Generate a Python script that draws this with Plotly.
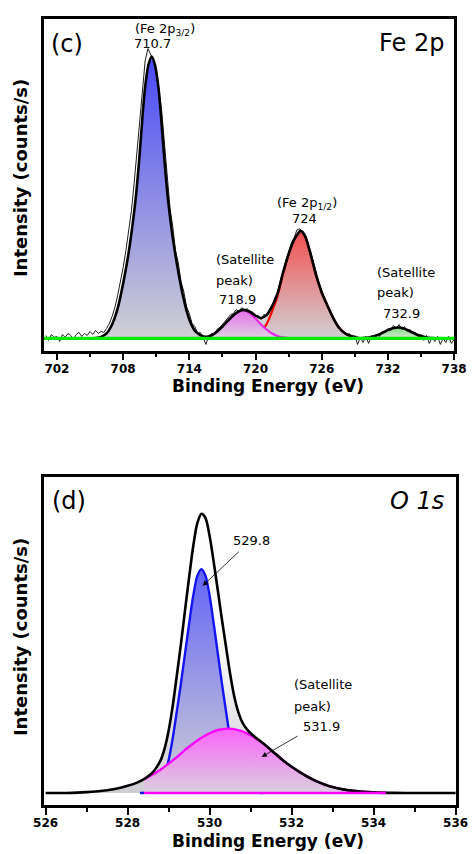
import numpy as np
import plotly.graph_objects as go

# ================= Panel (c): Fe 2p =================
# raw spectrum, sampled every 0.25 eV starting at 701.0 eV (one row = 1 eV)
fe_raw_start = 701.0
fe_raw_step = 0.25
fe_raw = [
    3, -2, 4, 1,          # 701
    2, -3, 4, 1,          # 702
    5, 3, -1, 4,          # 703
    6, 2, 5, 3,           # 704
    7, 4, 8, 5,           # 705
    7, 6, 10, 15,         # 706
    22, 31, 43, 56,       # 707
    71, 88, 106, 128,     # 708
    156, 186, 218, 254,   # 709
    279, 291, 285, 279,   # 710
    264, 250, 228, 193,   # 711
    162, 131, 112, 88,    # 712
    76, 57, 47, 32,       # 713
    25, 15, 12, 5,        # 714
    6, 1, -6, 2,          # 715
    5, 4, 9, 11,          # 716
    14, 17, 20, 24,       # 717
    25, 29, 27, 31,       # 718
    28, 30, 26, 25,       # 719
    22, 23, 19, 24,       # 720
    23, 29, 33, 41,       # 721
    46, 58, 66, 78,       # 722
    86, 96, 101, 109,     # 723
    110, 106, 104, 94,    # 724
    87, 75, 66, 55,       # 725
    48, 40, 35, 26,       # 726
    23, 15, 13, 8,        # 727
    7, 3, 5, 0,           # 728
    3, -6, 1, -4,         # 729
    2, -5, 3, -1,         # 730
    4, 2, 7, 6,           # 731
    10, 8, 13, 10,        # 732
    14, 9, 12, 7,         # 733
    9, 5, 6, 2,           # 734
    4, -2, 3, -5,         # 735
    1, -3, 2, -6,         # 736
    0, -4, 2, -5,         # 737
    -1,                   # 738
]
fe_raw_energy = (fe_raw_start + fe_raw_step * np.arange(len(fe_raw))).tolist()

# fitted components
fe_p32_x = [705.0, 705.5, 706.0, 706.5, 707.0, 707.5, 708.0, 708.5, 709.0, 709.25, 709.5, 709.75,
            710.0, 710.3, 710.6, 710.9, 711.2, 711.5, 711.75, 712.0, 712.25, 712.5, 713.0, 713.5,
            714.0, 714.5, 715.0, 715.5, 716.0]
fe_p32_y = [0, 0.4, 1.5, 5, 14, 30, 55, 86, 127, 153, 185, 222,
            253, 275, 283, 274, 252, 214, 178, 147, 122, 101, 67, 39,
            19, 7.5, 2.8, 0.5, 0]

fe_sat1_x = [714.0, 714.5, 715.0, 715.5, 716.0, 716.5, 717.0, 717.5, 718.0, 718.5, 718.9,
             719.5, 720.0, 720.5, 721.0, 721.5, 722.0, 722.5, 723.0, 723.5]
fe_sat1_y = [0, 0.3, 0.6, 1.2, 3, 6.8, 12, 17.8, 23.3, 27.2, 28.4,
             25.5, 20, 14, 9, 5, 2.5, 1.1, 0.4, 0]

fe_p12_x = [718.5, 719.0, 719.5, 720.0, 720.5, 721.0, 721.5, 722.0, 722.5, 723.0, 723.5, 723.8,
            724.1, 724.5, 725.0, 725.5, 726.0, 726.5, 727.0, 727.5, 728.0, 728.5, 729.0, 729.5, 730.0]
fe_p12_y = [0, 0.4, 1.3, 3, 6.5, 14.4, 27.2, 42.8, 65.2, 84.4, 99.2, 104.4,
            108, 102.4, 84.2, 63.2, 46.2, 33.4, 21.4, 11.8, 6, 3, 1.3, 0.2, 0]

fe_sat2_x = [729.5, 730.0, 730.5, 731.0, 731.5, 732.0, 732.5, 732.9, 733.5, 734.0, 734.5,
             735.0, 735.5, 736.0, 736.5]
fe_sat2_y = [0, 0.6, 1.5, 3.2, 5.6, 8.3, 10.4, 11, 9.8, 7.2, 4.5, 2.4, 1, 0.4, 0]

fe_env_x = [701.0, 705.0, 705.5, 706.0, 706.5, 707.0, 707.5, 708.0, 708.5, 709.0, 709.25, 709.5,
            709.75, 710.0, 710.3, 710.6, 710.9, 711.2, 711.5, 711.75, 712.0, 712.25, 712.5, 713.0,
            713.5, 714.0, 714.5, 715.0, 715.5, 716.0, 716.5, 717.0, 717.5, 718.0, 718.5, 718.9,
            719.5, 720.0, 720.5, 721.0, 721.5, 722.0, 722.5, 723.0, 723.5, 723.8, 724.1, 724.5,
            725.0, 725.5, 726.0, 726.5, 727.0, 727.5, 728.0, 728.5, 729.0, 729.5, 730.0, 730.5,
            731.0, 731.5, 732.0, 732.5, 732.9, 733.5, 734.0, 734.5, 735.0, 735.5, 736.0, 736.5,
            738.0]
fe_env_y = [0, 0, 0.4, 1.5, 5, 14, 30, 55, 86, 127, 153, 185,
            222, 253, 275, 283, 274, 252, 214, 178, 147, 122, 101, 67,
            39, 19, 7.8, 3.4, 1.7, 3, 6.8, 12, 17.8, 23.3, 27.2, 28.7,
            26.8, 23, 20.5, 23.4, 32.2, 45.3, 66.3, 84.8, 99.2, 104.4, 108, 102.4,
            84.2, 63.2, 46.2, 33.4, 21.4, 11.8, 6, 3, 1.3, 0.2, 0.6, 1.5,
            3.2, 5.6, 8.3, 10.4, 11, 9.8, 7.2, 4.5, 2.4, 1, 0.4, 0,
            0]

fe_ticks = [702, 708, 714, 720, 726, 732, 738]
fe_minor = [705, 711, 717, 723, 729, 735]

# ================= Panel (d): O 1s =================
o_main_x = [528.3, 528.4, 528.5, 528.6, 528.7, 528.8, 528.9, 529.0, 529.1, 529.2, 529.3, 529.4,
            529.5, 529.6, 529.7, 529.8, 529.9, 530.0, 530.1, 530.2, 530.3, 530.4, 530.5, 530.6,
            530.7, 530.8, 530.9, 531.0, 531.1, 531.2, 531.3]
o_main_y = [0, 0.3, 0.8, 2, 4.5, 9, 18, 33, 55, 82, 110, 140,
            170, 198, 218, 224.7, 218, 198, 170, 140, 110, 82, 55, 33,
            18, 9, 4.5, 2, 0.8, 0.3, 0]

o_sat_x = [528.4, 528.6, 528.8, 529.0, 529.2, 529.4, 529.6, 529.8, 530.0, 530.2, 530.45, 530.6,
           530.8, 531.0, 531.2, 531.4, 531.6, 531.8, 532.0, 532.2, 532.4, 532.6, 532.8, 533.0,
           533.25, 533.5, 533.75, 534.0, 534.3]
o_sat_y = [14, 18.3, 23.5, 29.5, 36, 43.3, 49.8, 55.6, 60, 63.3, 64.7, 64.2,
           61.8, 58, 52.9, 46.6, 39.5, 32.5, 26.4, 21, 16.1, 12, 8.6, 6,
           3.7, 2.3, 1.3, 0.7, 0.3]

o_env_x = [526.0, 526.5, 527.0, 527.5, 527.8, 528.0, 528.2, 528.4, 528.5, 528.6, 528.7, 528.8,
           528.9, 529.0, 529.1, 529.2, 529.3, 529.4, 529.5, 529.6, 529.7, 529.8, 529.9, 530.0,
           530.1, 530.2, 530.3, 530.4, 530.5, 530.6, 530.7, 530.8, 530.9, 531.0, 531.1, 531.2,
           531.4, 531.6, 531.8, 532.0, 532.2, 532.4, 532.6, 532.8, 533.0, 533.25, 533.5, 533.75,
           534.0, 534.5, 535.0, 536.0]
o_env_y = [0, 0.1, 0.9, 2.8, 5, 7.2, 10, 14, 16.9, 20.3, 25.5, 32.5,
           44.4, 62.5, 87.5, 118, 149.5, 183.3, 216.6, 247.8, 270.9, 280.3, 276, 258,
           231.8, 203.3, 174.2, 146.7, 119.7, 97.2, 81.3, 70.8, 64.5, 60, 56.4, 53.2,
           46.6, 39.5, 32.5, 26.4, 21, 16.1, 12, 8.6, 6, 3.7, 2.3, 1.3,
           0.7, 0.2, 0, 0]

o_ticks = [526, 528, 530, 532, 534, 536]
o_minor = [527, 529, 531, 533, 535]

FONT = "DejaVu Sans"
GRAY = "rgb(208,208,212)"
ENV_SCALE = [[0, "rgb(205,205,210)"], [0.25, "rgb(228,228,232)"],
             [0.55, "rgb(252,252,253)"], [1, "rgb(255,255,255)"]]


def component(x, y, top, bottom, xa, ya, line_color=None, width=0, scale=None):
    return go.Scatter(
        x=x, y=y, xaxis=xa, yaxis=ya, mode="lines",
        line=dict(color=line_color or top, width=width, shape="spline", smoothing=0.8),
        fill="tozeroy",
        fillgradient=dict(type="vertical", colorscale=scale or [[0, bottom], [1, top]]),
        hoverinfo="skip", showlegend=False,
    )


traces = []
# ---- top panel ----
traces.append(component(fe_env_x, fe_env_y, None, None, "x", "y", line_color="white",
                        scale=ENV_SCALE))
traces.append(component(fe_p32_x, fe_p32_y, "rgb(72,72,248)", GRAY, "x", "y"))
traces.append(component(fe_p12_x, fe_p12_y, "rgb(244,80,80)", GRAY, "x", "y",
                        line_color="rgb(255,0,0)", width=2.2))
traces.append(component(fe_sat1_x, fe_sat1_y, "rgb(228,110,232)", "rgb(222,212,226)", "x", "y",
                        line_color="rgb(230,40,230)", width=2.2))
traces.append(component(fe_sat2_x, fe_sat2_y, "rgb(130,220,130)", "rgb(215,228,215)", "x", "y"))
traces.append(go.Scatter(x=fe_raw_energy, y=fe_raw, xaxis="x", yaxis="y", mode="lines",
                         line=dict(color="rgb(30,30,30)", width=1.0),
                         hoverinfo="skip", showlegend=False))
traces.append(go.Scatter(x=fe_env_x, y=fe_env_y, xaxis="x", yaxis="y", mode="lines",
                         line=dict(color="black", width=2.6, shape="spline", smoothing=0.8),
                         hoverinfo="skip", showlegend=False))

# ---- bottom panel ----
traces.append(component(o_env_x, o_env_y, None, None, "x2", "y2", line_color="white",
                        scale=ENV_SCALE))
traces.append(component(o_main_x, o_main_y, "rgb(100,100,248)", GRAY, "x2", "y2",
                        line_color="rgb(20,20,240)", width=2.4))
traces.append(component(o_sat_x, o_sat_y, "rgb(250,100,250)", "rgb(218,208,222)", "x2", "y2",
                        line_color="rgb(255,0,255)", width=2.4))
traces.append(go.Scatter(x=o_env_x, y=o_env_y, xaxis="x2", yaxis="y2", mode="lines",
                         line=dict(color="black", width=2.6, shape="spline", smoothing=0.8),
                         hoverinfo="skip", showlegend=False))
traces.append(go.Scatter(x=[o_sat_x[0], o_sat_x[-1]], y=[0, 0], xaxis="x2", yaxis="y2",
                         mode="lines", line=dict(color="rgb(255,0,255)", width=2.6),
                         hoverinfo="skip", showlegend=False))

fig = go.Figure(traces)

tickfont = dict(family=FONT, size=12, color="black", weight="bold")
axis_common = dict(showline=True, linecolor="black", linewidth=2.6, mirror=True,
                   showgrid=False, zeroline=False, ticks="outside", tickcolor="black",
                   ticklen=7, tickwidth=2.4, tickfont=tickfont, ticklabelstandoff=-2)
yaxis_common = dict(showline=True, linecolor="black", linewidth=2.6, mirror=True,
                    showgrid=False, zeroline=False, ticks="", showticklabels=False)

# the page body adds an 8 px offset, so the figure is 8 px smaller on each side
fig.update_layout(
    width=468, height=846,
    margin=dict(l=36, r=11, t=8, b=49),
    paper_bgcolor="white", plot_bgcolor="white",
    showlegend=False,
    xaxis=dict(domain=[0, 0.996], anchor="y", range=[700.83, 738.02],
               tickvals=fe_ticks,
               minor=dict(tickvals=fe_minor, ticks="outside",
                          ticklen=4, tickwidth=2.2, tickcolor="black"),
               **axis_common),
    yaxis=dict(domain=[0.578, 1], anchor="x", range=[-12.3, 320.7], **yaxis_common),
    xaxis2=dict(domain=[0, 1], anchor="y2", range=[525.96, 536.01],
                tickvals=o_ticks,
                minor=dict(tickvals=o_minor, ticks="outside",
                           ticklen=4, tickwidth=2.2, tickcolor="black"),
                **axis_common),
    yaxis2=dict(domain=[0, 0.417], anchor="x2", range=[-12, 317], **yaxis_common),
    shapes=[dict(type="line", xref="x domain", yref="y", x0=0, x1=1, y0=0, y1=0,
                 line=dict(color="rgb(0,235,0)", width=3.2), layer="above")],
)

ann = []
lab = dict(family=FONT, size=13, color="black")
# titles
for yv in (0.5336, -0.0456):
    ann.append(dict(text="Binding Energy (eV)", xref="paper", yref="paper", x=0.544, y=yv,
                    showarrow=False, xanchor="center", yanchor="middle",
                    font=dict(family=FONT, size=17, color="black", weight="bold")))
for yv in (0.797, 0.213):
    ann.append(dict(text="Intensity (counts/s)", xref="paper", yref="paper", x=-0.057, y=yv,
                    showarrow=False, xanchor="center", yanchor="middle", textangle=-90,
                    font=dict(family=FONT, size=18, color="black", weight="bold")))
# panel labels
big = dict(family=FONT, size=24, color="black")
ann.append(dict(text="(c)", xref="paper", yref="paper", x=0.012, y=0.968, showarrow=False,
                xanchor="left", yanchor="middle", font=big))
ann.append(dict(text="Fe 2p", xref="paper", yref="paper", x=0.976, y=0.969, showarrow=False,
                xanchor="right", yanchor="middle", font=big))
ann.append(dict(text="(d)", xref="paper", yref="paper", x=0.014, y=0.387, showarrow=False,
                xanchor="left", yanchor="middle", font=big))
ann.append(dict(text="<i>O 1s</i>", xref="paper", yref="paper", x=0.976, y=0.387,
                showarrow=False, xanchor="right", yanchor="middle", font=big))


def t(text, x, y, xa, ya, anchor="center"):
    return dict(text=text, x=x, y=y, xref=xa, yref=ya, showarrow=False,
                xanchor=anchor, yanchor="middle", font=lab)


ann += [
    t("(Fe 2p<sub>3/2</sub>)", 711.8, 309.7, "x", "y"),
    t("710.7", 710.62, 296.2, "x", "y"),
    t("(Fe 2p<sub>1/2</sub>)", 724.7, 135.7, "x", "y"),
    t("724", 724.45, 120.7, "x", "y"),
    t("(Satellite", 716.24, 79.2, "x", "y", "left"),
    t("peak)", 716.24, 57.7, "x", "y", "left"),
    t("718.9", 716.51, 39.2, "x", "y", "left"),
    t("(Satellite", 730.87, 66.7, "x", "y", "left"),
    t("peak)", 730.87, 45.7, "x", "y", "left"),
    t("732.9", 731.4, 24.7, "x", "y", "left"),
    # bottom panel
    t("529.8", 531.03, 253.7, "x2", "y2"),
    t("(Satellite", 532.02, 109.0, "x2", "y2", "left"),
    t("peak)", 532.02, 87.0, "x2", "y2", "left"),
    t("531.9", 532.24, 67.0, "x2", "y2", "left"),
]
# arrows, bottom panel
for (xt, yt, xs, ys) in [(529.83, 208.0, 530.75, 243.7), (531.27, 36.3, 532.18, 58.0)]:
    ann.append(dict(text="", x=xt, y=yt, ax=xs, ay=ys, xref="x2", yref="y2",
                    axref="x2", ayref="y2", showarrow=True, arrowhead=2, arrowsize=1.3,
                    arrowwidth=0.8, arrowcolor="black"))

fig.update_layout(annotations=ann)
fig.write_html("out.html")
